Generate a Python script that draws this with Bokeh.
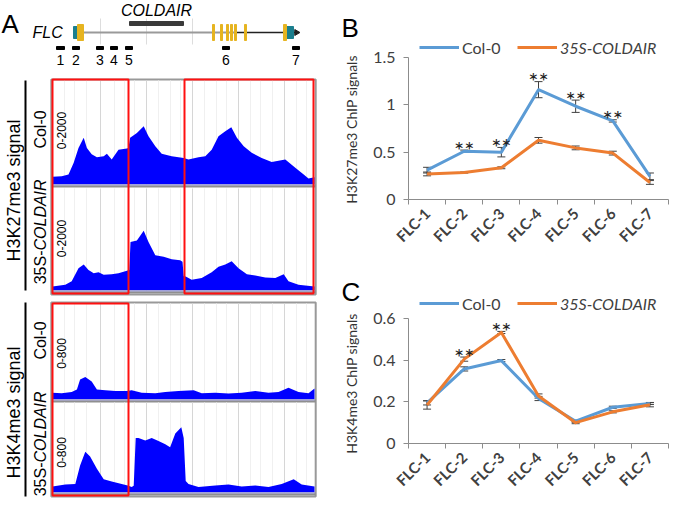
import numpy as np
from bokeh.plotting import figure
from bokeh.models import (Range1d, Label, Legend, LegendItem, Whisker, TeeHead,
                          ColumnDataSource, FixedTicker, NumeralTickFormatter)
from bokeh.layouts import row, column
from bokeh.embed import file_html
from bokeh.resources import INLINE
from bokeh.core.properties import value

# ------------------------------------------------------------------ data B / C
sites = ["FLC-1", "FLC-2", "FLC-3", "FLC-4", "FLC-5", "FLC-6", "FLC-7"]

k27_col = [0.31, 0.51, 0.50, 1.16, 0.985, 0.83, 0.245]
k27_col_err = [0.03, 0.012, 0.05, 0.085, 0.065, 0.012, 0.035]
k27_oe = [0.27, 0.285, 0.335, 0.625, 0.545, 0.49, 0.18]
k27_oe_err = [0.02, 0.006, 0.01, 0.03, 0.02, 0.02, 0.02]
k27_sig = [False, True, True, True, True, True, False]

k4_col = [0.195, 0.358, 0.398, 0.216, 0.107, 0.174, 0.192]
k4_col_err = [0.01, 0.01, 0.005, 0.01, 0.005, 0.005, 0.005]
k4_oe = [0.185, 0.405, 0.533, 0.228, 0.10, 0.152, 0.186]
k4_oe_err = [0.02, 0.01, 0.005, 0.01, 0.005, 0.005, 0.01]
k4_sig = [False, True, True, False, False, False, False]

# ------------------------------------------------------------------ data A (kb along locus)
coldair_span = [1.925, 3.275]
gene_span = [0.525, 6.10]
gene_intron_split = 4.575
exon_start = [0.625, 4.00, 4.20, 4.35, 4.45, 4.55, 4.80, 5.775]
exon_end = [0.775, 4.05, 4.25, 4.40, 4.50, 4.60, 4.85, 5.85]
utr_start = [0.525, 5.85]
utr_end = [0.65, 6.025]
primer_names = ["1", "2", "3", "4", "5", "6", "7"]
primer_start = [0.10, 0.50, 1.10, 1.45, 1.825, 4.25, 6.00]
primer_end = [0.30, 0.675, 1.275, 1.625, 2.00, 4.425, 6.175]
grid_major = [1.2, 2.35, 3.5, 4.65, 5.8]
grid_minor = [0.3, 0.55, 0.85, 1.55, 1.8, 2.05, 2.65, 2.95, 3.2, 3.8, 4.1, 4.35,
              4.95, 5.2, 5.5, 6.1, 6.35]
box_left = [0.0, 3.3]
box_right = [1.9, 6.525]
window = [0.0, 6.55]

k27_col_x = [0.0, 0.23, 0.40, 0.53, 0.65, 0.78, 0.86, 0.98, 1.11, 1.28, 1.36, 1.48, 1.65,
             1.86, 1.90, 1.94, 2.11, 2.28, 2.40, 2.57, 2.73, 2.98, 3.28, 3.40, 3.65, 3.82,
             3.98, 4.15, 4.32, 4.47, 4.61, 4.78, 4.98, 5.23, 5.48, 5.82, 6.07, 6.28, 6.40, 6.55]
k27_col_y = [150, 160, 190, 420, 700, 900, 700, 580, 525, 545, 590, 480, 670,
             690, 700, 900, 990, 1120, 930, 735, 590, 545, 510, 480, 525, 545,
             670, 930, 1025, 1100, 900, 735, 610, 510, 435, 480, 320, 190, 115, 140]

k27_oe_x = [0.0, 0.32, 0.48, 0.65, 0.78, 0.90, 1.03, 1.15, 1.28, 1.48, 1.65, 1.86, 1.92,
            1.95, 2.11, 2.28, 2.40, 2.57, 2.78, 2.98, 3.19, 3.25, 3.28, 3.33, 3.48, 3.73,
            3.98, 4.15, 4.32, 4.48, 4.65, 4.86, 5.07, 5.32, 5.57, 5.78, 5.90, 6.15, 6.55]
k27_oe_y = [80, 115, 180, 435, 510, 400, 340, 360, 310, 320, 340, 385, 400,
            950, 980, 1170, 950, 690, 660, 615, 595, 565, 280, 275, 210, 245,
            360, 465, 510, 575, 435, 320, 295, 255, 245, 320, 180, 115, 80]

k4_col_x = [0.0, 0.23, 0.48, 0.61, 0.69, 0.82, 0.98, 1.11, 1.32, 1.57, 1.86, 1.98, 2.23,
            2.57, 2.82, 3.15, 3.53, 3.73, 4.07, 4.40, 4.73, 5.07, 5.40, 5.65, 5.90, 6.15,
            6.40, 6.55]
k4_col_y = [57, 52, 63, 84, 167, 188, 149, 84, 78, 70, 70, 78, 57,
            52, 63, 70, 78, 52, 57, 50, 57, 70, 57, 63, 97, 63,
            52, 91]

k4_oe_x = [0.0, 0.32, 0.57, 0.69, 0.82, 0.94, 1.11, 1.28, 1.48, 1.73, 1.88, 1.98, 2.03,
           2.08, 2.15, 2.32, 2.48, 2.65, 2.82, 2.94, 3.07, 3.22, 3.28, 3.33, 3.40, 3.65,
           4.07, 4.40, 4.73, 5.07, 5.40, 5.73, 6.03, 6.23, 6.55]
k4_oe_y = [54, 71, 76, 240, 362, 321, 212, 117, 98, 76, 63, 49, 60,
           484, 484, 462, 484, 457, 430, 403, 525, 580, 484, 103, 76, 49,
           63, 71, 54, 63, 49, 76, 117, 71, 54]

BLUE = "#5B9BD5"
ORANGE = "#ED7D31"
TXT = "#404040"
AXC = "#8c8c8c"

# ------------------------------------------------------------------ panel A
PX_KB = 40.0


def kb(px):
    return (px - 52) / PX_KB


pa = figure(width=340, height=498, x_range=Range1d(kb(0), kb(340)), y_range=Range1d(498, 0),
            output_backend="svg", toolbar_location=None, min_border=0, title=None,
            x_axis_location=None, y_axis_location=None)
pa.grid.visible = False
pa.outline_line_color = None

# gene model
pa.segment(x0=grid_major[:3], x1=grid_major[:3], y0=[18] * 3, y1=[44] * 3,
           line_color="#dddddd", line_width=1)
pa.quad(left=[coldair_span[0]], right=[coldair_span[1]], top=[21], bottom=[25],
        color="#3a3a3a")
pa.segment(x0=[gene_span[0]], x1=[gene_intron_split], y0=[32], y1=[32],
           line_color="#9a9a9a", line_width=2)
pa.segment(x0=[gene_intron_split], x1=[gene_span[1]], y0=[32], y1=[32],
           line_color="#222222", line_width=1.5)
pa.scatter(x=[gene_span[1]], y=[32], marker="triangle", angle=-np.pi / 2, size=6,
           color="#222222")
pa.quad(left=utr_start, right=utr_end, top=[26] * 2, bottom=[38] * 2, color="#1B7F8E")
pa.quad(left=exon_start, right=exon_end, top=[24] * len(exon_start),
        bottom=[40] * len(exon_start), color="#E6B420")
pa.quad(left=primer_start, right=primer_end, top=[46] * 7, bottom=[49] * 7, color="black")
pa.text(x=[(a + b) / 2 for a, b in zip(primer_start, primer_end)], y=[59] * 7,
        text=primer_names, text_font=value("Liberation Sans"), text_font_size="14px",
        text_align="center", text_baseline="middle", text_color="black")
pa.add_layout(Label(x=sum(coldair_span) / 2, y=10, text="COLDAIR", text_font="Liberation Sans",
                    text_font_style="italic", text_font_size="16px", text_align="center",
                    text_baseline="middle", text_color="black"))
pa.add_layout(Label(x=kb(32), y=32, text="FLC", text_font="Liberation Sans",
                    text_font_style="italic", text_font_size="16px", text_align="left",
                    text_baseline="middle", text_color="black"))
pa.add_layout(Label(x=kb(1), y=8, text="A", text_font="Liberation Sans",
                    text_font_size="26px", text_align="left", text_baseline="top",
                    text_color="black"))

# track frames
groups = [(79, 294), (302, 496)]
for top, bot in groups:
    pa.quad(left=[window[0] - 0.03], right=[window[1] + 0.03], top=[top], bottom=[bot],
            fill_color="white", line_color="#999999", line_width=2)

tracks = [
    (k27_col_x, k27_col_y, 2000, 80, 184, "0-2000"),
    (k27_oe_x, k27_oe_y, 2000, 188, 290, "0-2000"),
    (k4_col_x, k4_col_y, 800, 303, 399, "0-800"),
    (k4_oe_x, k4_oe_y, 800, 402, 492, "0-800"),
]
for xs, vs, vmax, top, base, rng in tracks:
    pa.segment(x0=grid_minor, x1=grid_minor, y0=[top] * len(grid_minor),
               y1=[base] * len(grid_minor), line_color="#f0f0f0", line_width=1)
    pa.segment(x0=grid_major, x1=grid_major, y0=[top] * len(grid_major),
               y1=[base] * len(grid_major), line_color="#d6d6d6", line_width=1)
    ys = [base - v / vmax * (base - top) for v in vs]
    src = ColumnDataSource(dict(x=xs, y1=[base] * len(xs), y2=ys))
    pa.varea(x="x", y1="y1", y2="y2", source=src, fill_color="#0000FF")
    pa.quad(left=[window[0] - 0.03], right=[window[1] + 0.03], top=[base], bottom=[base + 3],
            fill_color="#8f8f8f", line_color=None)
    pa.segment(x0=[window[0]], x1=[window[1]], y0=[base + 0.5], y1=[base + 0.5],
               line_color="#b8b8f0", line_width=1)
    pa.add_layout(Label(x=kb(61), y=top + 50, text=rng, angle=np.pi / 2,
                        text_font="Liberation Sans", text_font_size="12px",
                        text_align="center", text_baseline="middle", text_color="black"))

# red boxes
pa.quad(left=box_left, right=box_right, top=[79, 79], bottom=[293, 293],
        fill_color=None, line_color="#FF1010", line_width=2)
pa.quad(left=[box_left[0]], right=[box_right[0]], top=[303], bottom=[495],
        fill_color=None, line_color="#FF1010", line_width=2)

# left labels
for (top, bot), name, cy, c1, a2 in [((80, 290), "H3K27me3 signal", 190, 129, 250),
                                      ((302, 496), "H3K4me3 signal", 412, 340, 462)]:
    pa.segment(x0=[kb(25)], x1=[kb(25)], y0=[top], y1=[bot], line_color="black", line_width=2)
    pa.add_layout(Label(x=kb(13), y=cy, text=name, angle=np.pi / 2, text_font="Liberation Sans",
                        text_font_size="18px", text_align="center", text_baseline="middle",
                        text_color="black"))
    pa.add_layout(Label(x=kb(40), y=c1, text="Col-0", angle=np.pi / 2,
                        text_font="Liberation Sans", text_font_size="16px",
                        text_align="center", text_baseline="middle", text_color="black"))
    pa.add_layout(Label(x=kb(40), y=a2, text="35S-", angle=np.pi / 2,
                        text_font="Liberation Sans", text_font_size="16px",
                        text_align="right", text_baseline="middle", text_color="black"))
    pa.add_layout(Label(x=kb(40), y=a2, text="COLDAIR", angle=np.pi / 2,
                        text_font="Liberation Sans", text_font_style="italic",
                        text_font_size="16px", text_align="left", text_baseline="middle",
                        text_color="black"))

# ------------------------------------------------------------------ gutter: panel letters + y titles
pg = figure(width=22, height=498, x_range=Range1d(0, 22), y_range=Range1d(498, 0),
            output_backend="svg", toolbar_location=None, min_border=0, title=None,
            x_axis_location=None, y_axis_location=None)
pg.grid.visible = False
pg.outline_line_color = None
for letter, ty in (("B", 12), ("C", 276)):
    pg.add_layout(Label(x=1, y=ty, text=letter, text_font="Liberation Sans",
                        text_font_size="26px", text_baseline="top", text_align="left",
                        text_color="black"))
for ttl, cy in (("H3K27me3 ChIP signals", 129), ("H3K4me3 ChIP signals", 383)):
    pg.add_layout(Label(x=11, y=cy, text=ttl, angle=np.pi / 2, text_font="Lato",
                        text_font_size="14px", text_align="center", text_baseline="middle",
                        text_color="#333333"))


# ------------------------------------------------------------------ panels B / C
def chart(col, col_err, oe, oe_err, sig, y_axis_max, yticks, y_end,
          h, b_top, b_bot, leg_y):
    p = figure(width=307, height=h, x_range=Range1d(0, 7), y_range=Range1d(0, y_end),
               output_backend="svg", toolbar_location=None, title=None,
               min_border_left=46, min_border_right=1, min_border_top=b_top,
               min_border_bottom=b_bot)
    p.grid.visible = False
    p.outline_line_color = None
    xs = [i + 0.5 for i in range(len(sites))]

    r_col = p.line(xs, col, line_color=BLUE, line_width=3, line_join="round")
    r_oe = p.line(xs, oe, line_color=ORANGE, line_width=3, line_join="round")

    for vals, errs in ((col, col_err), (oe, oe_err)):
        src = ColumnDataSource(dict(x=xs, up=[v + e for v, e in zip(vals, errs)],
                                    lo=[v - e for v, e in zip(vals, errs)]))
        w = Whisker(source=src, base="x", upper="up", lower="lo", line_color="#404040",
                    line_width=1,
                    upper_head=TeeHead(size=8, line_color="#404040", line_width=1),
                    lower_head=TeeHead(size=8, line_color="#404040", line_width=1))
        p.add_layout(w)

    sx, sy = [], []
    for i, s in enumerate(sig):
        if s:
            sx.append(xs[i])
            sy.append(max(col[i] + col_err[i], oe[i] + oe_err[i]))
    p.text(x=sx, y=sy, text=["**"] * len(sx), text_font=value("Lato"),
           text_font_size="24px", text_align="center", text_baseline="middle",
           y_offset=-1, text_color="#222222")

    xa = p.xaxis[0]
    xa.ticker = FixedTicker(ticks=xs, minor_ticks=list(range(8)))
    xa.major_label_overrides = {x: s for x, s in zip(xs, sites)}
    xa.major_label_orientation = np.pi / 4
    xa.major_tick_out = 0
    xa.major_tick_in = 0
    xa.minor_tick_out = 5
    xa.minor_tick_in = 0
    xa.minor_tick_line_color = AXC
    xa.axis_line_color = AXC
    xa.major_label_text_font = "Lato"
    xa.major_label_text_font_style = "bold"
    xa.major_label_text_font_size = "15px"
    xa.major_label_text_color = TXT
    xa.major_label_standoff = 6

    ya = p.yaxis[0]
    ya.ticker = FixedTicker(ticks=yticks)
    ya.formatter = NumeralTickFormatter(format="0.[0]")
    ya.bounds = (0, y_axis_max)
    ya.major_tick_out = 5
    ya.major_tick_in = 0
    ya.minor_tick_out = 0
    ya.minor_tick_in = 0
    ya.major_tick_line_color = AXC
    ya.axis_line_color = AXC
    ya.major_label_text_font = "Lato"
    ya.major_label_text_font_size = "16px"
    ya.major_label_text_color = TXT
    ya.major_label_standoff = 8

    for r, lab, style, lx in ((r_col, "Col-0", "normal", 11), (r_oe, "35S-COLDAIR", "italic", 109)):
        lg = Legend(items=[LegendItem(label=lab, renderers=[r])], location=(lx, leg_y),
                    label_text_font="Lato", label_text_font_size="16px",
                    label_text_font_style=style, label_text_color=TXT,
                    glyph_width=40, glyph_height=20, label_standoff=3, padding=0, margin=0,
                    border_line_color=None, background_fill_alpha=0)
        p.add_layout(lg)
    return p


pb = chart(k27_col, k27_col_err, k27_oe, k27_oe_err, k27_sig,
           1.5, [0, 0.5, 1.0, 1.5], 2.049, 258, 5, 59, 142)
pc = chart(k4_col, k4_col_err, k4_oe, k4_oe_err, k4_sig,
           0.6, [0, 0.2, 0.4, 0.6], 0.864, 240, 5, 55, 130)

layout = row(pa, pg, column(pb, pc))
open("out.html", "w").write(file_html(layout, INLINE))
